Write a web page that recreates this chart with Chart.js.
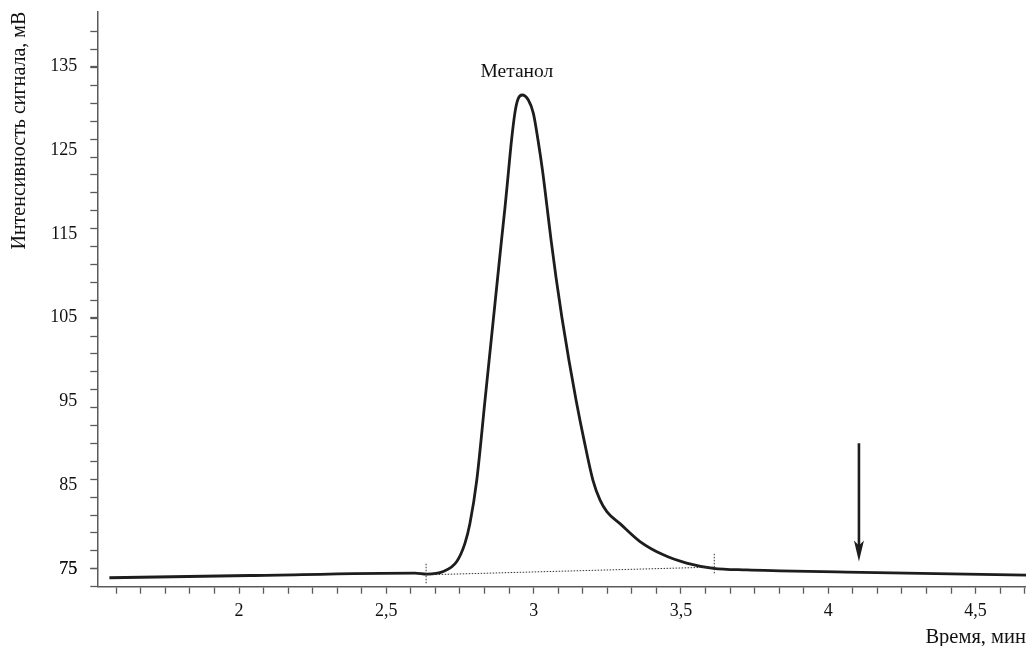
<!DOCTYPE html>
<html>
<head>
<meta charset="utf-8">
<script src="https://cdn.jsdelivr.net/npm/chart.js@4/dist/chart.umd.min.js"></script>
<style>
html,body{margin:0;padding:0;background:#fff;}
#wrap{width:1026px;height:646px;}
</style>
</head>
<body>
<div id="wrap"><canvas id="c" width="1026" height="646"></canvas></div>
<script>
// ---- data (time, min ; signal, mV) ----
const times  = [1.560, 2.037, 2.597, 2.637, 2.693, 2.739, 2.767, 2.784, 2.807, 2.835, 2.870, 2.891, 2.903, 2.914, 2.925, 2.937, 2.947, 2.961, 2.982, 2.999, 3.015, 3.030, 3.045, 3.059, 3.076, 3.096, 3.120, 3.144, 3.171, 3.201, 3.225, 3.249, 3.294, 3.361, 3.440, 3.519, 3.610, 3.723, 3.836, 4.062, 4.671];
const signal = [73.93, 74.20, 74.49, 74.37, 74.68, 75.87, 78.07, 80.46, 85.63, 95.19, 107.13, 114.29, 118.27, 122.26, 126.24, 129.62, 131.13, 131.61, 131.01, 129.42, 126.18, 122.60, 118.36, 114.29, 109.79, 105.00, 99.85, 95.15, 90.37, 85.60, 83.24, 81.81, 80.37, 78.26, 76.67, 75.68, 75.06, 74.86, 74.76, 74.61, 74.25];

// integration baseline and peak limits
const baseTimes  = [2.637, 3.609];
const baseSignal = [74.28, 75.20];
const startMarkTimes  = [2.635, 2.635];
const startMarkSignal = [75.6, 73.2];
const endMarkTimes  = [3.613, 3.613];
const endMarkSignal = [76.79, 74.37];

// annotation
const peakName = ['Метанол'];
const peakLabelTime = [2.943];
const peakLabelSignal = [134.33];
const arrowTime = [4.104];
const arrowSignal = [90.0, 75.87]; // tail, tip

// axes
const xLabelValues = [2, 2.5, 3, 3.5, 4, 4.5];
const xTickLabels  = ['2', '2,5', '3', '3,5', '4', '4,5'];
const yLabelValues = [75, 85, 95, 105, 115, 125, 135];
const yTickLabels  = ['75', '85', '95', '105', '115', '125', '135'];
const xMinorStep = 1/12;
const yMinorStep = 2.139;

const FONT = "'Liberation Serif', 'Times New Roman', serif";
const AXIS = '#5a5a5a';
const INK = '#1e1c1d';

const xMin = 1.519, xMax = 4.671;
const yMin = 75 - yMinorStep, yMax = 141.56;

const xTickValues = [];
for (let k = 19; k <= 56; k++) xTickValues.push(k * xMinorStep);
const yMinorValues = [];
for (let k = -1; k <= 30; k++) yMinorValues.push(75 + k * yMinorStep);

const near = (a, b) => Math.abs(a - b) < 1e-6;
const pts = (xs, ys) => xs.map((x, i) => ({x: x, y: ys[i]}));

const annot = {
  id: 'annot',
  afterDatasetsDraw(chart) {
    const xs = chart.scales.x, ys = chart.scales.y, ctx = chart.ctx;
    ctx.save();
    // peak label
    ctx.font = "19.5px " + FONT;
    ctx.fillStyle = '#111';
    ctx.textAlign = 'center';
    ctx.textBaseline = 'middle';
    ctx.fillText(peakName[0], xs.getPixelForValue(peakLabelTime[0]), ys.getPixelForValue(peakLabelSignal[0]));
    // arrow
    const ax = xs.getPixelForValue(arrowTime[0]);
    const y0 = ys.getPixelForValue(arrowSignal[0]);
    const y1 = ys.getPixelForValue(arrowSignal[1]);
    ctx.strokeStyle = INK;
    ctx.lineWidth = 2.6;
    ctx.beginPath();
    ctx.moveTo(ax, y0);
    ctx.lineTo(ax, y1 - 12);
    ctx.stroke();
    ctx.fillStyle = INK;
    ctx.beginPath();
    ctx.moveTo(ax, y1);
    ctx.lineTo(ax - 5, y1 - 21);
    ctx.lineTo(ax, y1 - 16);
    ctx.lineTo(ax + 5, y1 - 21);
    ctx.closePath();
    ctx.fill();
    ctx.restore();
  }
};

new Chart(document.getElementById('c'), {
  type: 'line',
  data: {
    datasets: [
      {data: pts(baseTimes, baseSignal), borderColor: '#333', borderWidth: 1, borderDash: [1.5, 1.5], pointRadius: 0},
      {data: pts(startMarkTimes, startMarkSignal), borderColor: '#333', borderWidth: 1, borderDash: [1.5, 1.5], pointRadius: 0},
      {data: pts(endMarkTimes, endMarkSignal), borderColor: '#333', borderWidth: 1, borderDash: [1.5, 1.5], pointRadius: 0},
      {data: pts(times, signal), borderColor: INK, borderWidth: 2.8, pointRadius: 0, cubicInterpolationMode: 'monotone'}
    ]
  },
  options: {
    responsive: false,
    animation: false,
    devicePixelRatio: 1,
    layout: {padding: {top: 11.7, left: 0, right: 0, bottom: 0}},
    plugins: {legend: {display: false}, tooltip: {enabled: false}},
    scales: {
      x: {
        type: 'linear', min: xMin, max: xMax,
        afterBuildTicks: s => { s.ticks = xTickValues.map(v => ({value: v})); },
        afterFit: s => { s.height = 59.3; s.paddingLeft = 0; s.paddingRight = 0; },
        ticks: {
          autoSkip: false, maxRotation: 0, padding: 7.2, color: '#111',
          font: {family: FONT, size: 18, lineHeight: 1.2},
          callback: v => { const i = xLabelValues.findIndex(l => near(l, v)); return i >= 0 ? xTickLabels[i] : ''; }
        },
        grid: {drawOnChartArea: false, drawTicks: true, tickLength: 7, tickColor: AXIS, tickWidth: 1.3},
        border: {display: true, color: AXIS, width: 1.5},
        title: {display: true, text: 'Время, мин', align: 'end', color: '#111',
                font: {family: FONT, size: 20.5, lineHeight: 1}, padding: {top: 0, bottom: -2}}
      },
      y: {
        type: 'linear', min: yMin, max: yMax,
        afterBuildTicks: s => {
          const vals = yMinorValues.concat(yLabelValues).sort((a, b) => a - b);
          s.ticks = vals.map(v => ({value: v}));
        },
        afterFit: s => { s.width = 97.3; s.paddingTop = 0; s.paddingBottom = 0; },
        ticks: {
          autoSkip: false, padding: 13, color: '#111',
          font: {family: FONT, size: 18, lineHeight: 1.2},
          callback: v => { const i = yLabelValues.findIndex(l => near(l, v)); return i >= 0 ? yTickLabels[i] : ''; }
        },
        grid: {drawOnChartArea: false, drawTicks: true, tickLength: 7, tickWidth: 1.3,
               tickColor: c => (c.tick && yLabelValues.some(l => near(l, c.tick.value)) && !yMinorValues.some(m => Math.abs(m - c.tick.value) < 0.3)) ? 'rgba(0,0,0,0)' : AXIS},
        border: {display: true, color: AXIS, width: 1.5},
        title: {display: true, text: 'Интенсивность сигнала, мВ', align: 'end', color: '#111',
                font: {family: FONT, size: 20, lineHeight: 1.2}, padding: {top: 7.5, bottom: 0}}
      }
    }
  },
  plugins: [annot]
});
</script>
</body>
</html>
